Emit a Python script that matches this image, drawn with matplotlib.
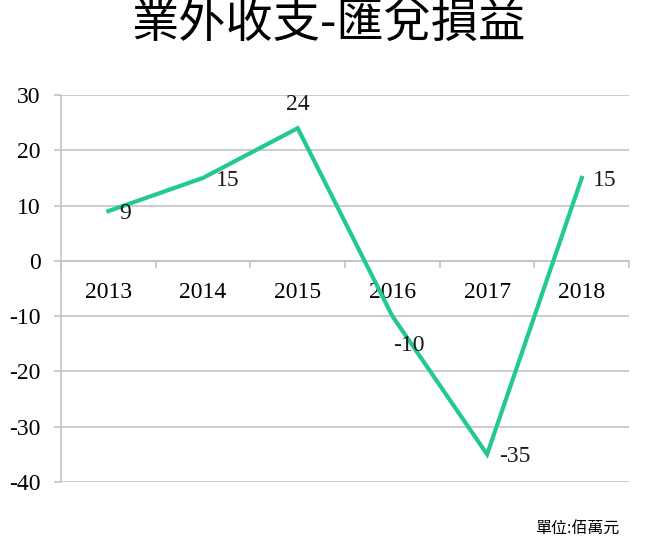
import matplotlib
matplotlib.use("Agg")
import matplotlib.pyplot as plt
from matplotlib.ticker import FixedLocator

# Data
years = ["2013", "2014", "2015", "2016", "2017", "2018"]
values = [9, 15, 24, -10, -35, 15]
labels = ["9", "15", "24", "-10", "-35", "15"]
y_ticks = [30, 20, 10, 0, -10, -20, -30, -40]

title = "業外收支-匯兌損益"
unit_note = "單位:佰萬元"

line_color = "#22C994"
grid_color = "#C4C4C4"
serif = ["Liberation Serif", "DejaVu Serif"]
cjk = ["Noto Sans CJK TC", "DejaVu Sans"]

fig = plt.figure(figsize=(6.7, 5.54), dpi=100)
ax = fig.add_axes([0.091, 0.130, 0.848, 0.6985])

x = list(range(len(years)))
ax.plot(x, values, color=line_color, linewidth=3.0, solid_joinstyle="miter", zorder=3)

ax.set_xlim(-0.5, len(years) - 0.5)
ax.set_ylim(min(y_ticks), max(y_ticks))
ax.set_yticks(y_ticks)
ax.set_yticklabels([str(v) for v in y_ticks], fontfamily=serif, fontsize=17)
ax.yaxis.grid(True, color=grid_color, linewidth=1.2)
ax.set_axisbelow(True)

# category axis sits at y = 0
for side in ["top", "right"]:
    ax.spines[side].set_visible(False)
ax.spines["bottom"].set_position(("data", 0))
ax.spines["bottom"].set_color(grid_color)
ax.spines["bottom"].set_linewidth(1.2)
ax.spines["left"].set_color(grid_color)
ax.spines["left"].set_linewidth(1.2)

ax.set_xticks(x)
ax.set_xticklabels(years, fontfamily=serif, fontsize=17)
ax.xaxis.set_minor_locator(FixedLocator([i - 0.5 for i in range(len(years) + 1)]))
ax.tick_params(axis="x", which="major", length=0, pad=15)
ax.tick_params(axis="x", which="minor", length=5, color=grid_color, width=1.2, direction="out")
ax.tick_params(axis="y", length=5, color=grid_color, width=1.2, pad=9.5)

# data labels
offsets = [(8, -1.5), (9, -2), (0, 17), (12, -21), (9, -1.5), (8, -1.5)]
aligns = ["left", "left", "center", "center", "left", "left"]
for xi, v, lab, off, ha in zip(x, values, labels, offsets, aligns):
    ax.annotate(lab, (xi, v), xytext=off, textcoords="offset points",
                ha=ha, va="center", fontsize=17, fontfamily=serif, color="#1a1a1a")

fig.text(0.49, 0.958, title, ha="center", va="center", fontsize=34, fontfamily=cjk)
fig.text(0.862, 0.045, unit_note, ha="center", va="center", fontsize=11.5, fontfamily=cjk)

fig.savefig("out.png", dpi=100, facecolor="white")
